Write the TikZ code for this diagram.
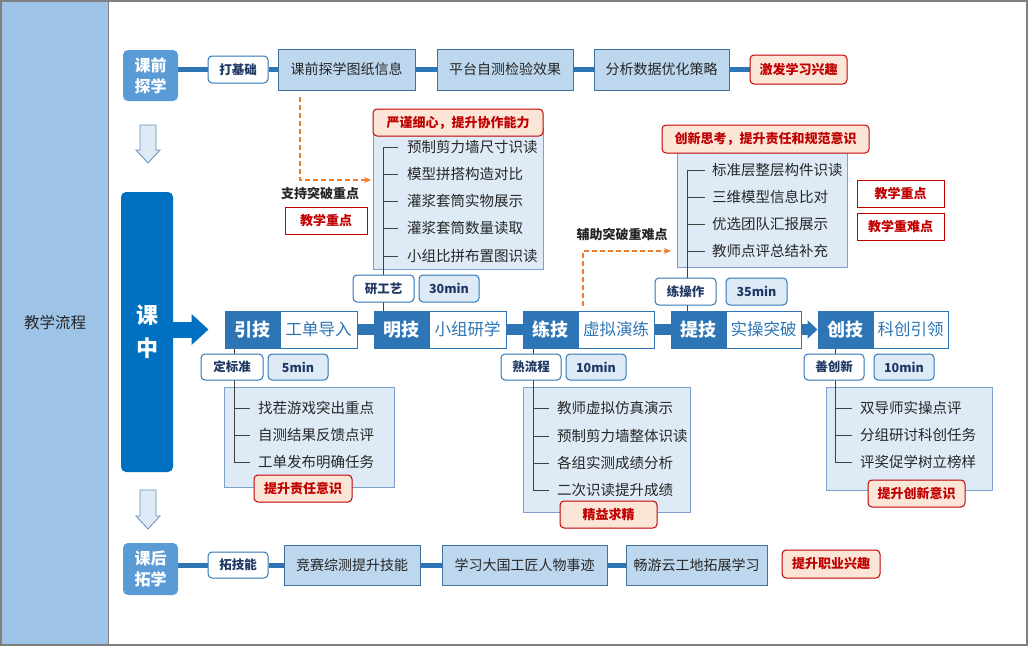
\documentclass[tikz,border=0pt]{standalone}
\usepackage{fontspec}
\setmainfont{Noto Sans CJK SC}
\usetikzlibrary{arrows.meta,calc}
\pgfdeclarelayer{base}\pgfdeclarelayer{back}\pgfdeclarelayer{bg}
\pgfsetlayers{base,back,bg,main}
\definecolor{panel}{HTML}{9DC3E6}
\definecolor{qian}{HTML}{5B9BD5}
\definecolor{zhong}{HTML}{0070C0}
\definecolor{dk}{HTML}{2E75B6}
\definecolor{lb}{HTML}{BDD7EE}
\definecolor{lbb}{HTML}{41719C}
\definecolor{ll}{HTML}{DEEBF7}
\definecolor{llb}{HTML}{7F9FCF}
\definecolor{rd}{HTML}{C00000}
\definecolor{pk}{HTML}{FBE5D6}
\definecolor{tg}{HTML}{1F3864}
\definecolor{og}{HTML}{ED7D31}
\definecolor{frm}{HTML}{7F7F7F}
\newcommand\mybox[7][]{\node[#1, minimum width={#5pt-#3pt}, minimum height={#6pt-#4pt}, inner sep=0pt] (#2) at ({(#3+#5)/2},{(#4+#6)/2}) {#7};}
\tikzset{
  stage/.style={fill=qian, rounded corners=5pt, text=white, font=\fontsize{16}{21}\selectfont\bfseries, align=center},
  tagw/.style={draw=dk, line width=1pt, fill=white, rounded corners=4pt, font=\fontsize{12.5}{14}\selectfont\bfseries, text=tg},
  tagb/.style={tagw, fill=ll},
  stepb/.style={draw=lbb, line width=0.8pt, fill=lb, font=\fontsize{14}{16}\selectfont, text=black!85},
  redl/.style={draw=rd, line width=1pt, fill=pk, rounded corners=4pt, text=rd, font=\fontsize{13}{15}\selectfont\bfseries},
  redw/.style={draw=rd, line width=1pt, fill=white, text=rd, font=\fontsize{13}{15}\selectfont\bfseries},
  dkb/.style={fill=dk, draw=dk, line width=1pt, text=white, font=\fontsize{18}{20}\selectfont\bfseries},
  whb/.style={fill=white, draw=dk, line width=1pt, text=dk, font=\fontsize{16.5}{19}\selectfont},
  listb/.style={fill=ll, draw=llb, line width=0.8pt},
  item/.style={anchor=west, inner sep=0pt, font=\fontsize{14.5}{16}\selectfont, text=black!85},
  conn/.style={draw=dk, line width=5pt},
  connm/.style={draw=dk, line width=11pt},
  tree/.style={draw=black!75, line width=0.8pt},
  dsh/.style={draw=og, line width=1.2pt, dash pattern=on 5pt off 3pt, -{Stealth[length=7pt,width=6pt]}},
  note/.style={font=\fontsize{13}{15}\selectfont\bfseries, text=black!85},
  hollow/.style={fill=ll, draw=lbb!80, line width=0.8pt}
}
\begin{document}
\begin{tikzpicture}[x=1pt,y=-1pt]
\useasboundingbox (0,0) rectangle (1030,648);
% frame and side panel
\begin{pgfonlayer}{base}
\fill[white] (0,0) rectangle (1030,648);
\fill[panel] (1,1) rectangle (108,645);
\draw[frm, line width=1.2pt] (1,1) rectangle (1027,645);
\draw[frm, line width=1pt] (108,1) -- (108,645);
\end{pgfonlayer}
\node[font=\fontsize{15.5}{18}\selectfont, text=black!85] (title) at (55,323) {教学流程};

% ---------- top row ----------
\mybox[stage]{kq}{123}{50}{178}{101}{课前\\探学}
\mybox[tagw]{dj}{208}{56}{268}{83}{打基础}
\mybox[stepb]{p1}{278}{49}{415}{90}{课前探学图纸信息}
\mybox[stepb]{p2}{437}{49}{573}{90}{平台自测检验效果}
\mybox[stepb]{p3}{594}{49}{729}{90}{分析数据优化策略}
\mybox[redl]{p4}{750}{55}{847}{84}{激发学习兴趣}
\begin{pgfonlayer}{bg}
\draw[conn] (kq.east |- dj) -- (dj.west);
\draw[conn] (dj.east) -- (p1.west);
\draw[conn] (p1.east) -- (p2.west);
\draw[conn] (p2.east) -- (p3.west);
\draw[conn] (p3.east) -- (p3.east -| p4.west);
\end{pgfonlayer}

% hollow arrows
\draw[hollow] (140,125) -- (156,125) -- (156,150) -- (160,150) -- (148,163) -- (136,150) -- (140,150) -- cycle;
\draw[hollow] (140,490) -- (156,490) -- (156,516) -- (160,516) -- (148,529) -- (136,516) -- (140,516) -- cycle;

% ---------- middle block ----------
\node[fill=zhong, rounded corners=5pt, minimum width=52pt, minimum height=280pt, inner sep=0pt, text=white, font=\fontsize{22}{33}\selectfont\bfseries, align=center] (kz) at (147,332) {课\\中};

\mybox[dkb]{yj}{225}{311}{280}{348}{引技}
\mybox[whb]{yjt}{280}{311}{357}{348}{工单导入}
\mybox[dkb]{mj}{374}{311}{429}{348}{明技}
\mybox[whb]{mjt}{429}{311}{506}{348}{小组研学}
\mybox[dkb]{lj}{523}{311}{578}{348}{练技}
\mybox[whb]{ljt}{578}{311}{654}{348}{虚拟演练}
\mybox[dkb]{tj}{671}{311}{726}{348}{提技}
\mybox[whb]{tjt}{726}{311}{801}{348}{实操突破}
\mybox[dkb]{cj}{818}{311}{873}{348}{创技}
\mybox[whb]{cjt}{873}{311}{948}{348}{科创引领}

\draw[zhong, line width=16pt, -{Triangle[length=17pt,width=30pt]}, shorten >=16pt] (kz.east |- yj.west) -- (yj.west);
\begin{pgfonlayer}{bg}
\draw[connm] (yjt.east) -- (mj.west);
\draw[connm] (mjt.east) -- (lj.west);
\draw[connm] (ljt.east) -- (tj.west);
\end{pgfonlayer}
\draw[dk, line width=11pt, -{Triangle[length=10pt,width=18pt]}] (tjt.east) -- (cj.west);

% ---- 引技 branch ----
\mybox[tagw]{t1}{201}{354}{263}{380}{定标准}
\mybox[tagb]{t1m}{268}{354}{328}{380}{5min}
\begin{pgfonlayer}{back}
\mybox[listb]{l1}{224}{387}{394}{487}{}
\end{pgfonlayer}
\node[item] (a1) at (258,408) {找茬游戏突出重点};
\node[item] (a2) at (258,435) {自测结果反馈点评};
\node[item] (a3) at (258,462) {工单发布明确任务};
\mybox[redl]{r1}{254}{475}{352}{502}{提升责任意识}
\coordinate (x1) at (234,0);
\begin{pgfonlayer}{bg}
\draw[tree] (x1 |- yj.south) |- ($(a3.west)+(-8,0)$);
\draw[tree] (x1 |- a1.west) -- ($(a1.west)+(-8,0)$);
\draw[tree] (x1 |- a2.west) -- ($(a2.west)+(-8,0)$);
\end{pgfonlayer}

% ---- 明技 branch (up) ----
\mybox[tagw]{t2}{353}{275}{414}{302}{研工艺}
\mybox[tagb]{t2m}{419}{275}{479}{302}{30min}
\begin{pgfonlayer}{back}
\mybox[listb]{l2}{373}{128}{543}{269}{}
\end{pgfonlayer}
\mybox[redl]{r2}{373}{109}{543}{136}{严谨细心，提升协作能力}
\node[item] (b1) at (407,147) {预制剪力墙尺寸识读};
\node[item] (b2) at (407,174) {模型拼搭构造对比};
\node[item] (b3) at (407,201) {灌浆套筒实物展示};
\node[item] (b4) at (407,228) {灌浆套筒数量读取};
\node[item] (b5) at (407,256) {小组比拼布置图识读};
\coordinate (x2) at (383,0);
\begin{pgfonlayer}{bg}
\draw[tree] (x2 |- mj.north) |- ($(b1.west)+(-9,0)$);
\foreach \n in {b2,b3,b4,b5} \draw[tree] (x2 |- \n.west) -- ($(\n.west)+(-9,0)$);
\end{pgfonlayer}

% dashed support arrow 1
\coordinate (d1s) at (300,97);
\coordinate (d1e) at (371,180);
\draw[dsh] (d1s) |- (d1e);
\node[note] (n1) at (320,194) {支持突破重点};
\mybox[redw]{k1}{285}{207}{367}{234}{教学重点}

% ---- 练技 branch ----
\mybox[tagw]{t3}{501}{354}{561}{380}{熟流程}
\mybox[tagb]{t3m}{566}{354}{626}{380}{10min}
\begin{pgfonlayer}{back}
\mybox[listb]{l3}{523}{387}{690}{512}{}
\end{pgfonlayer}
\node[item] (c1) at (557,408) {教师虚拟仿真演示};
\node[item] (c2) at (557,436) {预制剪力墙整体识读};
\node[item] (c3) at (557,463) {各组实测成绩分析};
\node[item] (c4) at (557,490) {二次识读提升成绩};
\mybox[redl]{r3}{560}{501}{657}{528}{精益求精}
\coordinate (x3) at (533,0);
\begin{pgfonlayer}{bg}
\draw[tree] (x3 |- lj.south) |- ($(c4.west)+(-8,0)$);
\foreach \n in {c1,c2,c3} \draw[tree] (x3 |- \n.west) -- ($(\n.west)+(-8,0)$);
\end{pgfonlayer}

% dashed support arrow 2
\coordinate (d2s) at (583,306);
\coordinate (d2e) at (671,251);
\draw[dsh] (d2s) |- (d2e);
\node[note] (n2) at (622,235) {辅助突破重难点};

% ---- 提技 branch (up) ----
\mybox[tagw]{t4}{655}{278}{716}{305}{练操作}
\mybox[tagb]{t4m}{726}{278}{787}{305}{35min}
\begin{pgfonlayer}{back}
\mybox[listb]{l4}{677}{148}{847}{267}{}
\end{pgfonlayer}
\mybox[redl]{r4}{662}{125}{869}{153}{创新思考，提升责任和规范意识}
\node[item] (e1) at (712,170) {标准层整层构件识读};
\node[item] (e2) at (712,197) {三维模型信息比对};
\node[item] (e3) at (712,224) {优选团队汇报展示};
\node[item] (e4) at (712,251) {教师点评总结补充};
\coordinate (x4) at (687,0);
\begin{pgfonlayer}{bg}
\draw[tree] (x4 |- tj.north) |- ($(e1.west)+(-7,0)$);
\foreach \n in {e2,e3,e4} \draw[tree] (x4 |- \n.west) -- ($(\n.west)+(-7,0)$);
\end{pgfonlayer}
\mybox[redw]{k2}{857}{180}{944}{207}{教学重点}
\mybox[redw]{k3}{857}{213}{944}{240}{教学重难点}

% ---- 创技 branch ----
\mybox[tagw]{t5}{804}{354}{864}{380}{善创新}
\mybox[tagb]{t5m}{874}{354}{934}{380}{10min}
\begin{pgfonlayer}{back}
\mybox[listb]{l5}{826}{387}{992}{490}{}
\end{pgfonlayer}
\node[item] (f1) at (860,408) {双导师实操点评};
\node[item] (f2) at (860,435) {分组研讨科创任务};
\node[item] (f3) at (860,462) {评奖促学树立榜样};
\mybox[redl]{r5}{868}{480}{965}{507}{提升创新意识}
\coordinate (x5) at (835,0);
\begin{pgfonlayer}{bg}
\draw[tree] (x5 |- cj.south) |- ($(f3.west)+(-8,0)$);
\foreach \n in {f1,f2} \draw[tree] (x5 |- \n.west) -- ($(\n.west)+(-8,0)$);
\end{pgfonlayer}

% ---------- bottom row ----------
\mybox[stage]{kh}{123}{543}{178}{595}{课后\\拓学}
\mybox[tagw]{tn}{208}{552}{268}{578}{拓技能}
\mybox[stepb]{q1}{284}{545}{420}{585}{竞赛综测提升技能}
\mybox[stepb]{q2}{442}{545}{607}{585}{学习大国工匠人物事迹}
\mybox[stepb]{q3}{626}{545}{767}{585}{畅游云工地拓展学习}
\mybox[redl]{q4}{782}{550}{880}{578}{提升职业兴趣}
\begin{pgfonlayer}{bg}
\draw[conn] (kh.east |- tn) -- (tn.west);
\draw[conn] (tn.east) -- (q1.west);
\draw[conn] (q1.east) -- (q2.west);
\draw[conn] (q2.east) -- (q3.west);
\end{pgfonlayer}
\end{tikzpicture}
\end{document}
